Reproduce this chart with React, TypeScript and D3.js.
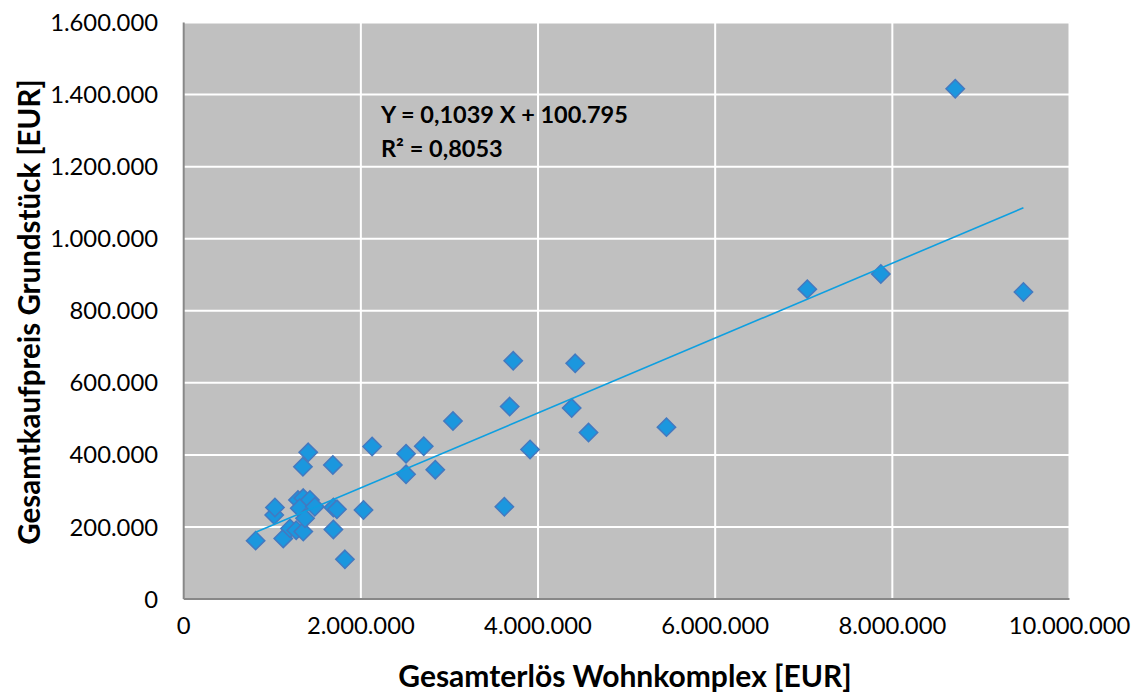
import React from "react";
import * as d3 from "d3";

// Gesamterlös Wohnkomplex [EUR]
const erloes = [
  812000, 1022000, 1030000, 1124000, 1200000, 1270000, 1350000, 1290000, 1350000, 1425000,
  1310000, 1480000, 1370000, 1346000, 1406000, 1684000, 1690000, 1730000, 1690000, 1820000,
  2030000, 2127000, 2510000, 2510000, 2710000, 2840000, 3040000, 3620000, 3680000, 3720000,
  3910000, 4380000, 4420000, 4570000, 5450000, 7040000, 7870000, 8710000, 9480000,
];
// Gesamtkaufpreis Grundstück [EUR]
const kaufpreis = [
  162000, 233000, 254000, 168000, 196000, 191000, 187000, 275000, 280000, 275000,
  252000, 256000, 224000, 367000, 407000, 372000, 254000, 249000, 193000, 110000,
  247000, 423000, 403000, 346000, 424000, 359000, 494000, 256000, 534000, 661000,
  415000, 530000, 654000, 462000, 477000, 860000, 902000, 1416000, 852000,
];

const xTicks = [0, 2000000, 4000000, 6000000, 8000000, 10000000];
const yTicks = [0, 200000, 400000, 600000, 800000, 1000000, 1200000, 1400000, 1600000];

const slope = 0.1039;
const intercept = 100795;
const equationLabel = "Y = 0,1039 X + 100.795";
const r2Label = "R² = 0,8053";
const xTitle = "Gesamterlös Wohnkomplex [EUR]";
const yTitle = "Gesamtkaufpreis Grundstück [EUR]";

const de = d3.formatLocale({ decimal: ",", thousands: ".", grouping: [3], currency: ["", " €"] });
const fmt = de.format(",d");

export default function App() {
  const W = 1139;
  const H = 693;
  const left = 183.7;
  const right = 1069.5;
  const top = 22.5;
  const bottom = 599;
  const x = d3.scaleLinear().domain([0, 10000000]).range([left, right]);
  const y = d3.scaleLinear().domain([0, 1600000]).range([bottom, top]);
  const font = "Lato, 'Open Sans', sans-serif";

  const xmin = d3.min(erloes) as number;
  const xmax = d3.max(erloes) as number;
  const trend = d3.line<number>()
    .x((d) => x(d))
    .y((d) => y(slope * d + intercept));

  const diamond = d3.symbol().type(d3.symbolDiamond2).size(215)();

  return (
    <svg width={W} height={H} style={{ position: "absolute", left: 0, top: 0, background: "#fff" }}>
      <rect x={left} y={top} width={right - left} height={bottom - top} fill="#c0c0c0" />
      {yTicks.slice(1).map((t) => (
        <line key={"gy" + t} x1={left} x2={right} y1={y(t)} y2={y(t)} stroke="#fff" strokeWidth={2} />
      ))}
      {xTicks.slice(1).map((t) => (
        <line key={"gx" + t} x1={x(t)} x2={x(t)} y1={top} y2={bottom} stroke="#fff" strokeWidth={2} />
      ))}
      <line x1={left} x2={left} y1={top} y2={bottom} stroke="#888" strokeWidth={2} />
      <line x1={left} x2={right} y1={bottom} y2={bottom} stroke="#888" strokeWidth={2} />
      {yTicks.map((t) => (
        <text key={"ty" + t} x={158} y={y(t)} dy="0.36em" textAnchor="end" fontFamily={font} fontSize={23.8} fill="#000">
          {fmt(t)}
        </text>
      ))}
      {xTicks.map((t) => (
        <text key={"tx" + t} x={x(t)} y={634} textAnchor="middle" fontFamily={font} fontSize={23.8} fill="#000">
          {fmt(t)}
        </text>
      ))}
      {erloes.map((v, i) => (
        <path
          key={"p" + i}
          d={diamond as string}
          transform={`translate(${x(v)},${y(kaufpreis[i])})`}
          fill="#1b97de"
          stroke="#4479c0"
          strokeWidth={1.5}
        />
      ))}
      <path d={trend([xmin, xmax]) as string} fill="none" stroke="#0e9fe0" strokeWidth={1.6} />
      <text x={381} y={123} fontFamily={font} fontSize={23.5} fontWeight="bold" fill="#000">{equationLabel}</text>
      <text x={381} y={157} fontFamily={font} fontSize={23.5} fontWeight="bold" fill="#000">{r2Label}</text>
      <text x={625} y={687} textAnchor="middle" fontFamily={font} fontSize={30} fontWeight="bold" fill="#000">{xTitle}</text>
      <text
        transform={`translate(40,${312}) rotate(-90)`}
        textAnchor="middle"
        fontFamily={font}
        fontSize={29.5}
        fontWeight="bold"
        fill="#000"
      >
        {yTitle}
      </text>
    </svg>
  );
}
